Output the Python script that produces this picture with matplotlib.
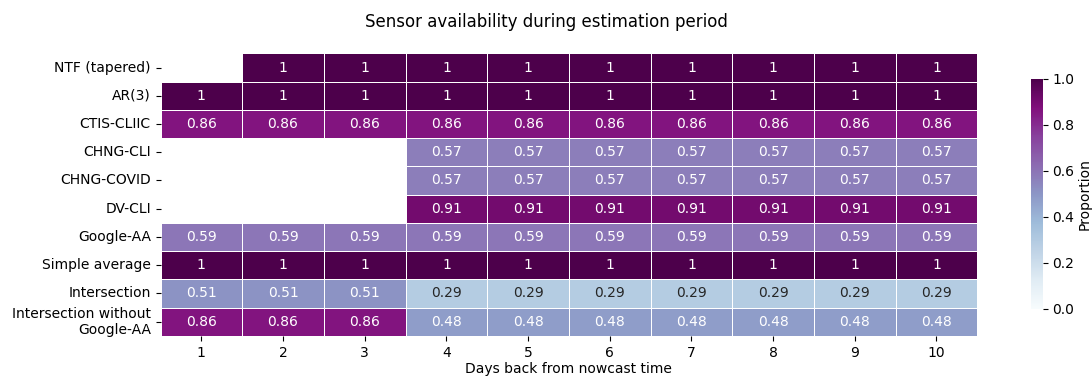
import numpy as np
import pandas as pd
import matplotlib
matplotlib.use("Agg")
import matplotlib.pyplot as plt
import seaborn as sns

# Sensor availability (share of locations with data) by lag
days = [1, 2, 3, 4, 5, 6, 7, 8, 9, 10]
sensors = ["NTF (tapered)", "AR(3)", "CTIS-CLIIC", "CHNG-CLI", "CHNG-COVID",
           "DV-CLI", "Google-AA", "Simple average", "Intersection",
           "Intersection without\nGoogle-AA"]

nan = np.nan
ntf_tapered = [nan, 1, 1, 1, 1, 1, 1, 1, 1, 1]
ar3 = [1, 1, 1, 1, 1, 1, 1, 1, 1, 1]
ctis_cliic = [0.86, 0.86, 0.86, 0.86, 0.86, 0.86, 0.86, 0.86, 0.86, 0.86]
chng_cli = [nan, nan, nan, 0.57, 0.57, 0.57, 0.57, 0.57, 0.57, 0.57]
chng_covid = [nan, nan, nan, 0.57, 0.57, 0.57, 0.57, 0.57, 0.57, 0.57]
dv_cli = [nan, nan, nan, 0.91, 0.91, 0.91, 0.91, 0.91, 0.91, 0.91]
google_aa = [0.59, 0.59, 0.59, 0.59, 0.59, 0.59, 0.59, 0.59, 0.59, 0.59]
simple_avg = [1, 1, 1, 1, 1, 1, 1, 1, 1, 1]
intersection = [0.51, 0.51, 0.51, 0.29, 0.29, 0.29, 0.29, 0.29, 0.29, 0.29]
intersection_no_gaa = [0.86, 0.86, 0.86, 0.48, 0.48, 0.48, 0.48, 0.48, 0.48, 0.48]

df = pd.DataFrame(
    [ntf_tapered, ar3, ctis_cliic, chng_cli, chng_covid, dv_cli,
     google_aa, simple_avg, intersection, intersection_no_gaa],
    index=sensors, columns=days)

fig = plt.figure(figsize=(10.92, 3.79), dpi=100)
ax = fig.add_axes([0.147, 0.114, 0.748, 0.745])
cax = fig.add_axes([0.944, 0.185, 0.011, 0.607])

sns.heatmap(df, ax=ax, cbar_ax=cax, cmap="BuPu", vmin=0, vmax=1,
            annot=True, linewidths=0.6, linecolor="white")

cax.set_ylabel("Proportion", labelpad=2)
ax.set_xlabel("Days back from nowcast time", labelpad=2)
ax.set_ylabel("")
ax.tick_params(axis="y", rotation=0)
ax.tick_params(axis="x", rotation=0)
fig.suptitle("Sensor availability during estimation period", fontsize=12, y=0.965)

plt.savefig("out.png", dpi=100)
